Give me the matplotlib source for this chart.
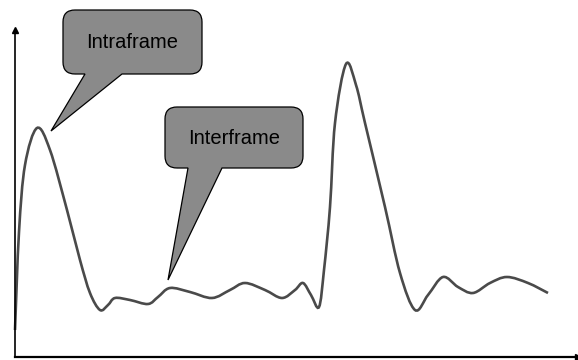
import numpy as np
import matplotlib
matplotlib.use("Agg")
import matplotlib.pyplot as plt
from matplotlib.path import Path
from matplotlib.patches import PathPatch

plt.rcParams["font.family"] = ["Liberation Sans", "DejaVu Sans"]

# curve (arbitrary units, no ticks on the original)
curve_x = [0, 4, 10, 22, 35, 52, 65, 75, 85, 93, 100, 115, 133, 143, 155,
           175, 197, 215, 230, 250, 267, 280, 288, 296, 304, 309, 315, 320, 331,
           341, 350, 370, 385, 400, 413, 428, 443, 458, 475, 492, 513, 533]
curve_y = [27, 125, 192, 229, 207, 147, 97, 64, 47, 52, 59, 57, 53, 60, 69,
           65, 59, 67, 74, 67, 59, 67, 74, 62, 50, 87, 150, 234, 293,
           272, 234, 150, 84, 47, 62, 80, 70, 64, 74, 80, 74, 64]

labels = ["Intraframe", "Interframe"]
# box (x0, x1, y0, y1), tail base (xa, xb), tail tip (x, y)
boxes = [(48, 187, 283, 347), (150, 288, 189, 250)]
tail_base = [(70, 107), (173, 207)]
tail_tip = [(36, 226), (153, 77)]


def smooth_path(xs, ys):
    p = np.column_stack([xs, ys]).astype(float)
    p = np.vstack([p[0], p, p[-1]])
    verts = [p[1]]
    codes = [Path.MOVETO]
    for i in range(1, len(p) - 2):
        c1 = p[i] + (p[i + 1] - p[i - 1]) / 6
        c2 = p[i + 1] - (p[i + 2] - p[i]) / 6
        verts += [c1, c2, p[i + 1]]
        codes += [Path.CURVE4] * 3
    return Path(verts, codes)


def callout_path(box, base, tip, r=12):
    x0, x1, y0, y1 = box
    verts = [(x0 + r, y0), (base[0], y0), tip, (base[1], y0), (x1 - r, y0),
             (x1, y0), (x1, y0 + r), (x1, y1 - r), (x1, y1), (x1 - r, y1),
             (x0 + r, y1), (x0, y1), (x0, y1 - r), (x0, y0 + r), (x0, y0),
             (x0 + r, y0)]
    codes = [Path.MOVETO, Path.LINETO, Path.LINETO, Path.LINETO, Path.LINETO,
             Path.CURVE3, Path.CURVE3, Path.LINETO, Path.CURVE3, Path.CURVE3,
             Path.LINETO, Path.CURVE3, Path.CURVE3, Path.LINETO, Path.CURVE3,
             Path.CURVE3]
    return Path(verts, codes)


fig = plt.figure(figsize=(5.78, 3.6), dpi=100)
ax = fig.add_axes([15 / 578, 3 / 360, 563 / 578, 327 / 360])
ax.set_xlim(0, 563)
ax.set_ylim(0, 327)
ax.set_xticks([])
ax.set_yticks([])
for s in ["top", "right"]:
    ax.spines[s].set_visible(False)
ax.spines["left"].set_linewidth(1.2)
ax.spines["bottom"].set_linewidth(1.6)
ax.plot([0], [1], marker="^", color="black", markersize=5,
        transform=ax.transAxes, clip_on=False)
ax.plot([1], [0], marker=">", color="black", markersize=5,
        transform=ax.transAxes, clip_on=False)

ax.add_patch(PathPatch(smooth_path(curve_x, curve_y), fill=False,
                       edgecolor="#4a4a4a", linewidth=1.9, clip_on=False))

for lab, box, base, tip in zip(labels, boxes, tail_base, tail_tip):
    ax.add_patch(PathPatch(callout_path(box, base, tip), facecolor="#8a8a8a",
                           edgecolor="black", linewidth=0.9, clip_on=False,
                           zorder=3))
    ax.text((box[0] + box[1]) / 2, (box[2] + box[3]) / 2 - 1, lab,
            ha="center", va="center", fontsize=14.5, color="black", zorder=4)

fig.savefig("out.png", dpi=100)
